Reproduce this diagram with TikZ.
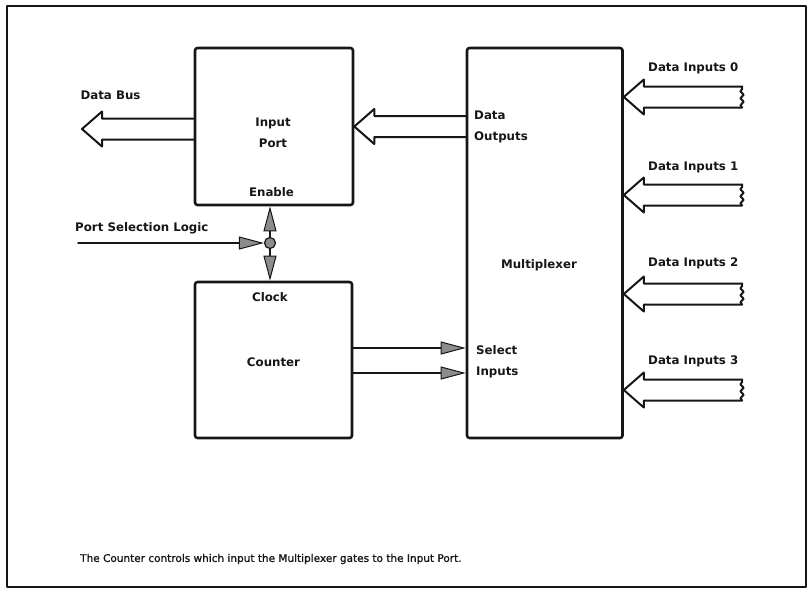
\documentclass[tikz,border=0pt]{standalone}
\usepackage{fontspec}
\setsansfont{DejaVu Sans}
\newfontfamily\mxcapfont[FakeBold=1.3]{DejaVu Sans}
\usepackage{tikz}
\usetikzlibrary{arrows.meta,calc,decorations.pathmorphing}
\definecolor{mxInk}{HTML}{161616}
\definecolor{mxGray}{HTML}{8C8C8C}
\tikzset{
  mx diagram/.style={font=\sffamily\bfseries, text=mxInk, line cap=round,
    line join=round, x=1pt, y=-1pt},
  mx box/.style={draw=mxInk, line width=2.6pt, rounded corners=2.5pt, inner sep=0pt},
  mx bus/.style={draw=mxInk, line width=2pt},
  mx break/.style={mx bus, decorate,
    decoration={snake, segment length=7pt, amplitude=1.6pt}},
  mx arrow/.style={-{Triangle[length=25pt, width=13pt, fill=mxGray, line width=1pt]},
    draw=mxInk, line width=1.6pt},
  mx dot/.style={circle, draw=mxInk, fill=mxGray, line width=1.2pt,
    inner sep=0pt, minimum size=11pt},
  mx label/.style={font=\sffamily\bfseries\fontsize{11.8pt}{21pt}\selectfont, inner sep=0pt},
  mx caption/.style={font=\mxcapfont\fontsize{10.5pt}{12pt}\selectfont, inner sep=0pt},
  mx frame/.style={draw=mxInk, line width=2.2pt}
}
% hollow bus arrow: tip at #1, tail at the x of #2
\newcommand{\busarrow}[2]{%
  \draw[mx bus] let \p1=(#1), \p2=(#2) in
    (\x2,\y1+10.5pt) -- (\x1+20pt,\y1+10.5pt) -- (\x1+20pt,\y1+17.5pt)
    -- (\x1,\y1) -- (\x1+20pt,\y1-17.5pt) -- (\x1+20pt,\y1-10.5pt) -- (\x2,\y1-10.5pt);}

\begin{document}
\begin{tikzpicture}[mx diagram]
\useasboundingbox (0,0) rectangle (808,589);
\draw[mx frame] (7,6) rectangle (806,587);
% blocks
\node[mx box, minimum width=158pt, minimum height=157pt] (port) at (274,126.5) {};
\node[mx box, minimum width=157pt, minimum height=156pt] (counter) at (273.5,360) {};
\node[mx box, minimum width=155.5pt, minimum height=390pt] (mux) at (544.75,243) {};
\node[mx label, align=center] (port text) at (273,132.5) {Input\\Port};
\node[mx label] (enable) at (271.5,192) {Enable};
\node[mx label] (clock) at (270,297) {Clock};
\node[mx label] (counter text) at (273.5,362) {Counter};
\node[mx label] (mux text) at (539,265) {Multiplexer};
\node[mx label, align=left, anchor=west] (out text) at (474,127) {Data\\Outputs};
\node[mx label, align=left, anchor=west] (sel text) at (476,362) {Select\\Inputs};
% buses
\node[mx label] (bus text) at (110.5,95) {Data Bus};
\coordinate (bus end) at (82,129);
\busarrow{bus end}{port.west}
\busarrow{port.east}{mux.west}
\foreach \i/\y/\ly in {0/97/68,1/195/167,2/294/263,3/390/361}{
  \node[mx label, anchor=west] (in text \i) at (648,\ly) {Data Inputs \i};
  \coordinate (in tip \i) at (mux.east |- 0,\y);
  \coordinate (in end \i) at (742,\y);
  \busarrow{in tip \i}{in end \i}
  \draw[mx break] ([yshift=-10.5pt]in end \i) -- ([yshift=10.5pt]in end \i);
}
% port selection and clock
\node[mx label, anchor=west] (psl text) at (75,228) {Port Selection Logic};
\node[mx dot] (jn) at (270,243) {};
\coordinate (psl start) at (78,243);
\draw[mx arrow] (psl start) -- (jn);
\draw[mx arrow] (jn) -- (jn |- port.south);
\draw[mx arrow] (jn) -- (jn |- counter.north);
% select lines
\coordinate (sel a) at ([yshift=12pt]counter.east);
\coordinate (sel b) at ([yshift=-13pt]counter.east);
\draw[mx arrow] (sel a) -- (sel a -| mux.west);
\draw[mx arrow] (sel b) -- (sel b -| mux.west);
\node[mx caption, anchor=west] (caption) at (80,559)
  {The Counter controls which input the Multiplexer gates to the Input Port.};
\end{tikzpicture}
\end{document}
